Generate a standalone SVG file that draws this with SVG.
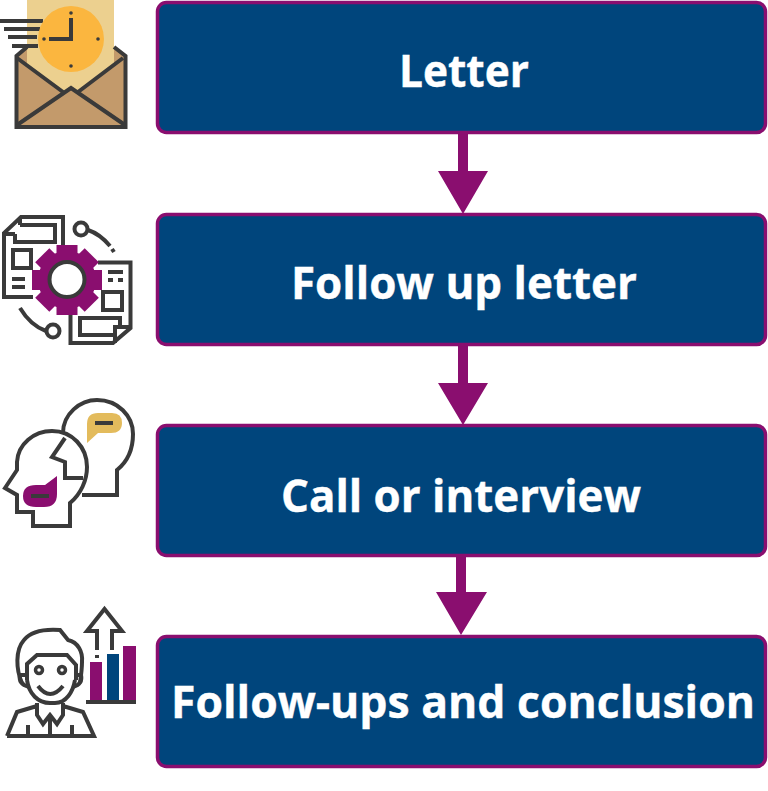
<svg xmlns="http://www.w3.org/2000/svg" width="768" height="791" viewBox="0 0 768 791">
<style>
.box{fill:#00457c;stroke:#8a0e6f;stroke-width:3.5}
.lbl{font-family:"Open Sans","Noto Sans",sans-serif;font-weight:700;font-size:45px;fill:#fff;stroke:#fff;stroke-width:.4;text-anchor:middle}
.arr{fill:#8a0e6f}
.ln{fill:none;stroke:#3a3a3a;stroke-width:4;stroke-linejoin:miter}
.dot{fill:#3a3a3a}
.pu{fill:#8a0e6f}
</style>
<rect width="768" height="791" fill="#fff"/>
<g id="icon-letter">
<path d="M16 56L27 48H114L126 56V127H16Z" fill="#c39a6b"/>
<path d="M27 0H114V65L78 92L71 88L64 92L27 64Z" fill="#ecd08f"/>
<path d="M27 47L16.500 56V127H125.500V56L114 47" class="ln"/>
<path d="M17 58L63 92M123 58L78 92M17 125L71 88L125 125" class="ln"/>
<path d="M0 21H43M4 29H40M8 37H37M12 46H38" class="ln"/>
<circle cx="71" cy="39" r="33" fill="#fbb63f"/>
<path d="M71 18V39H49" class="ln"/>
<circle class="dot" cx="71" cy="13" r="1.800"/><circle class="dot" cx="98" cy="39" r="1.800"/><circle class="dot" cx="71" cy="66" r="1.800"/><circle class="dot" cx="44" cy="39" r="1.800"/>
</g>
<g id="icon-followup">
<path d="M63 247V217H21L4 233V297H33M4 234H15M20 217V225M20 225H55V242H15V234" class="ln"/>
<path d="M13 250H31V268H13ZM12 279H25M12 287H25" class="ln"/>
<path d="M98 262.500H130.500V328L113 343H70.500V315M115 343V327H131M115 335H80V318H120V327" class="ln"/>
<path d="M103 292H122V310H103ZM108 272H123M108 280H113M118 280H123" class="ln"/>
<circle cx="81" cy="229" r="6.500" class="ln"/>
<circle cx="53" cy="331" r="6.500" class="ln"/>
<path d="M88 230C97 233 105 240 110 246M112 249L114 252M20 308C26 318 35 327 46 331" class="ln"/>
<g class="pu" transform="translate(67 280)">
<circle r="29"/><rect x="-10.500" y="-35" width="21" height="70"/><rect x="-35" y="-10" width="70" height="20"/>
<rect x="-10" y="-35" width="20" height="70" transform="rotate(45)"/><rect x="-10" y="-35" width="20" height="70" transform="rotate(135)"/>
</g>
<circle cx="67" cy="279.500" r="17.500" fill="#fff" stroke="#3a3a3a" stroke-width="4"/>
</g>
<g id="icon-call">
<path d="M63 433C63 414 80 400 97 400C118 400 133 416 133 434C133 451 127 462 117 470V495H82M65 438L52 457L65 462V478H83" class="ln"/>
<path d="M5 488L17 470V462C18 444 34 431 52 431C72 431 87 447 87 467C87 480 81 494 70 503V526H33V512H17V495Z" class="ln"/>
<path d="M87 443V424Q87 413 98 413H112Q122 413 122 423Q122 433 111 433H98Z" fill="#e3bb5c"/>
<path d="M95 423H113" class="ln"/>
<path d="M57 476V494Q57 507 44 507H36Q23 507 23 496Q23 485 36 485H45Z" class="pu"/>
<path d="M31 496H49" class="ln"/>
</g>
<g id="icon-conclusion">
<path d="M90 662H102V700H90ZM123 646H136V700H123Z" class="pu"/><path d="M107 654H119V700H107Z" fill="#00457c"/>
<path d="M86 702H136" class="ln"/>
<path d="M97 650V631H87L104.500 609L122 631H112V650M97 655V658" class="ln"/>
<path d="M22 683C16 670 15 650 24 640C32 630 46 629 60 630L68 640C78 642 83 652 82 662C82 668 81 676 80 683" class="ln"/>
<path d="M27 680V664L37 655H67L76 665V680" class="ln"/>
<path d="M27 680C29 694 38 703 50 703H55C66 703 73 692 75 680" class="ln"/>
<path d="M26 675H20Q18 684 29 687M76 675H81Q83 684 73 687" class="ln"/>
<circle cx="39" cy="670" r="3.500" class="ln" style="stroke-width:3.500"/><circle cx="62" cy="670" r="3.500" class="ln" style="stroke-width:3.500"/>
<path d="M38 686Q50 702 63 686" class="ln"/>
<path d="M7 736L17 712L37 706M63 706L83 712L94 736H7M37 703V715L43 724L50 715L57 724L63 715V703M50 715V736M28 736V725M72 736V725" class="ln"/>
</g>
<g id="connectors">
<path class="arr" d="M458 133H468V171H488L463 214L438 171H458Z"/>
<path class="arr" d="M458 345H468V383H488L463 425L438 383H458Z"/>
<path class="arr" d="M456 556H466V592H487L461 635L436 592H456Z"/>
</g>
<g id="node-letter"><rect class="box" x="157.500" y="2.500" width="608" height="130" rx="9"/><text class="lbl" x="464" y="87" textLength="130" lengthAdjust="spacingAndGlyphs">Letter</text></g>
<g id="node-followup"><rect class="box" x="157.500" y="214.500" width="608" height="130" rx="9"/><text class="lbl" x="464" y="299" textLength="346" lengthAdjust="spacingAndGlyphs">Follow up letter</text></g>
<g id="node-call"><rect class="box" x="157.500" y="425.500" width="608" height="130" rx="9"/><text class="lbl" x="461" y="512" textLength="360" lengthAdjust="spacingAndGlyphs">Call or interview</text></g>
<g id="node-conclusion"><rect class="box" x="157.500" y="636.500" width="608" height="130" rx="9"/><text class="lbl" x="463" y="718" textLength="584" lengthAdjust="spacingAndGlyphs">Follow-ups and conclusion</text></g>
</svg>
